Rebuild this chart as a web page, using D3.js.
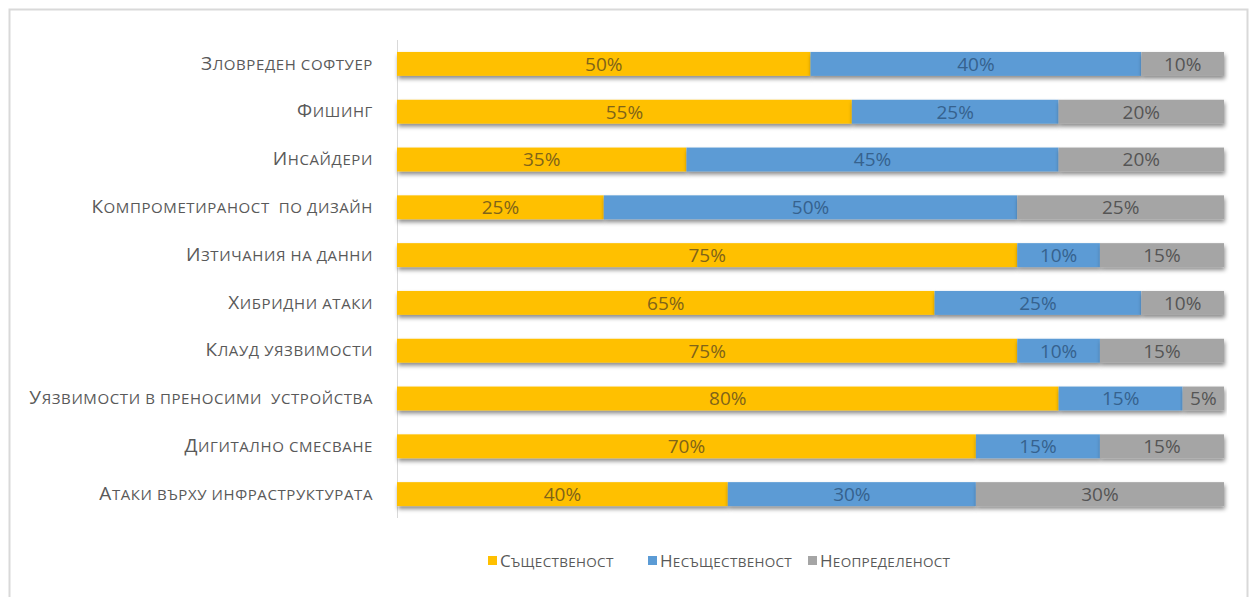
<!DOCTYPE html>
<html><head><meta charset="utf-8">
<script src="https://cdn.jsdelivr.net/npm/d3@7"></script>
<style>
html,body{margin:0;padding:0;background:#fff;}
svg{display:block;}
text{font-family:"Open Sans","DejaVu Sans",sans-serif;}
</style></head>
<body>
<svg id="chart" width="1250" height="597"></svg>
<script>
const categories = ["Зловреден софтуер","Фишинг","Инсайдери","Компрометираност  по дизайн","Изтичания на данни","Хибридни атаки","Клауд уязвимости","Уязвимости в преносими  устройства","Дигитално смесване","Атаки върху инфраструктурата"];
const seriesNames = ["Същественост","Несъщественост","Неопределеност"];
const significant = [50,55,35,25,75,65,75,80,70,40];
const insignificant = [40,25,45,50,10,25,10,15,15,30];
const undetermined = [10,20,20,25,15,10,15,5,15,30];
const colors = ["#FFC000","#5B9BD5","#A5A5A5"];
const labelColors = ["#7f6419","#36628e","#555555"];

const svg = d3.select("#chart");
const defs = svg.append("defs");
const f = defs.append("filter").attr("id","sh").attr("x","-5%").attr("y","-30%").attr("width","110%").attr("height","190%");
f.append("feDropShadow").attr("dx",1).attr("dy",3).attr("stdDeviation",2).attr("flood-color","#000").attr("flood-opacity",0.45);

svg.append("rect").attr("x",9.5).attr("y",9.5).attr("width",1238).attr("height",600)
  .attr("fill","none").attr("stroke","#d9d9d9").attr("stroke-width",2);

const table = categories.map((c,i)=>({cat:c, s0:significant[i], s1:insignificant[i], s2:undetermined[i]}));
const stack = d3.stack().keys(["s0","s1","s2"])(table);

const x = d3.scaleLinear().domain([0,100]).range([397,1224]);
const y = d3.scaleBand().domain(categories).range([40,518]).paddingInner(0.5).paddingOuter(0.25);

svg.append("line").attr("x1",397.5).attr("x2",397.5).attr("y1",40).attr("y2",518).attr("stroke","#d9d9d9");

const g = svg.append("g");
stack.forEach((layer,k)=>{
  g.selectAll(null).data(layer).enter().append("rect")
    .attr("x",d=>x(d[0])).attr("y",d=>y(d.data.cat))
    .attr("width",d=>x(d[1])-x(d[0])).attr("height",y.bandwidth())
    .attr("fill",colors[k]).attr("filter","url(#sh)");
});
stack.forEach((layer,k)=>{
  g.selectAll(null).data(layer).enter().append("text")
    .attr("x",d=>(x(d[0])+x(d[1]))/2).attr("y",d=>y(d.data.cat)+y.bandwidth()/2)
    .attr("dy","0.36em").attr("text-anchor","middle")
    .attr("font-size",19).attr("fill",labelColors[k])
    .text(d=>(d[1]-d[0])+"%");
});

function smallCaps(sel, big, small){
  sel.each(function(d){
    const t = d3.select(this);
    const s = typeof d === "string" ? d : d.name;
    t.append("tspan").attr("font-size",big).text(s.charAt(0));
    t.append("tspan").attr("font-size",small).text(s.slice(1).toUpperCase());
  });
}

svg.append("g").selectAll(null).data(categories).enter().append("text")
  .attr("x",373).attr("y",d=>y(d)+y.bandwidth()/2).attr("dy","0.36em")
  .attr("text-anchor","end").attr("fill","#595959")
  .style("white-space","pre").style("letter-spacing","0.6px")
  .call(smallCaps, 19, 15);

const legX = [488,648,808];
const leg = svg.append("g");
seriesNames.forEach((n,i)=>{
  leg.append("rect").attr("x",legX[i]).attr("y",556).attr("width",9).attr("height",9).attr("fill",colors[i]);
  leg.append("text").datum(n).attr("x",legX[i]+12).attr("y",561).attr("dy","0.36em")
    .attr("fill","#595959").style("letter-spacing","0.3px").call(smallCaps, 17, 13.5);
});
</script>
</body></html>
